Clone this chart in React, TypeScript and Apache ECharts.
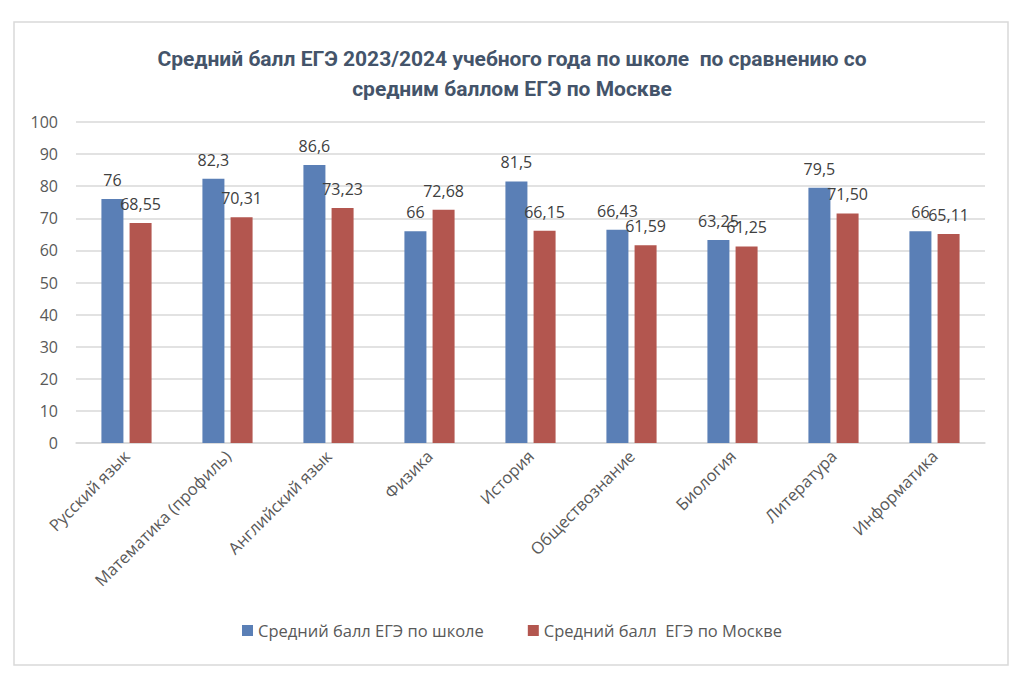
import React, { useEffect, useRef } from "react";
import * as echarts from "echarts";

const categories = [
  "Русский язык",
  "Математика (профиль)",
  "Английский язык",
  "Физика",
  "История",
  "Обществознание",
  "Биология",
  "Литература",
  "Информатика",
];
const schoolValues = [76, 82.3, 86.6, 66, 81.5, 66.43, 63.25, 79.5, 66];
const moscowValues = [68.55, 70.31, 73.23, 72.68, 66.15, 61.59, 61.25, 71.5, 65.11];
const seriesNames = ["Средний балл ЕГЭ по школе", "Средний балл  ЕГЭ по Москве"];
const titleText = "Средний балл ЕГЭ 2023/2024 учебного года по школе  по сравнению со\nсредним баллом ЕГЭ по Москве";

const FONT = "'Open Sans', sans-serif";

export default function App() {
  const ref = useRef<HTMLDivElement>(null);
  useEffect(() => {
    if (!ref.current) return;
    const chart = echarts.init(ref.current, undefined, { renderer: "svg" });
    chart.setOption({
      animation: false,
      backgroundColor: "#ffffff",
      textStyle: { fontFamily: FONT },
      graphic: [
        {
          type: "rect",
          shape: { x: 14, y: 22, width: 994, height: 643 },
          style: { fill: "none", stroke: "#d9d9d9", lineWidth: 1.5 },
          silent: true,
        },
      ],
      title: {
        text: titleText,
        left: "center",
        top: 39,
        textStyle: {
          fontFamily: "Roboto, sans-serif",
          fontWeight: "bold",
          fontSize: 21,
          color: "#44546a",
          lineHeight: 30,
        },
      },
      legend: {
        bottom: 42,
        left: "center",
        itemWidth: 11,
        itemHeight: 11,
        itemGap: 44,
        icon: "rect",
        textStyle: { fontSize: 16.5, color: "#595959", fontFamily: FONT },
        data: seriesNames,
      },
      grid: { left: 76, right: 39, top: 122, bottom: 243 },
      xAxis: {
        type: "category",
        data: categories,
        axisTick: { show: false },
        axisLine: { lineStyle: { color: "#d9d9d9", width: 1.5 } },
        axisLabel: {
          rotate: 45,
          interval: 0,
          margin: 10,
          fontSize: 16.5,
          color: "#595959",
          fontFamily: FONT,
        },
      },
      yAxis: {
        type: "value",
        min: 0,
        max: 100,
        interval: 10,
        axisLine: { show: false },
        axisTick: { show: false },
        splitLine: { lineStyle: { color: "#d9d9d9", width: 1.5 } },
        axisLabel: { fontSize: 16, color: "#595959", margin: 18, fontFamily: FONT },
      },
      series: [
        {
          name: seriesNames[0],
          type: "bar",
          data: schoolValues,
          barWidth: 22,
          barGap: "28%",
          itemStyle: { color: "#5a7fb6" },
          label: {
            show: true,
            position: "top",
            distance: 11,
            fontSize: 16,
            color: "#404040",
            fontFamily: FONT,
            formatter: (p: any) => String(p.value).replace(".", ","),
          },
        },
        {
          name: seriesNames[1],
          type: "bar",
          data: moscowValues,
          barWidth: 22,
          itemStyle: { color: "#b3564f" },
          label: {
            show: true,
            position: "top",
            distance: 11,
            fontSize: 16,
            color: "#404040",
            fontFamily: FONT,
            formatter: (p: any) => Number(p.value).toFixed(2).replace(".", ","),
          },
        },
      ],
    });
    return () => chart.dispose();
  }, []);
  return (
    <div
      ref={ref}
      style={{ position: "fixed", left: 0, top: 0, width: 1024, height: 686 }}
    />
  );
}
